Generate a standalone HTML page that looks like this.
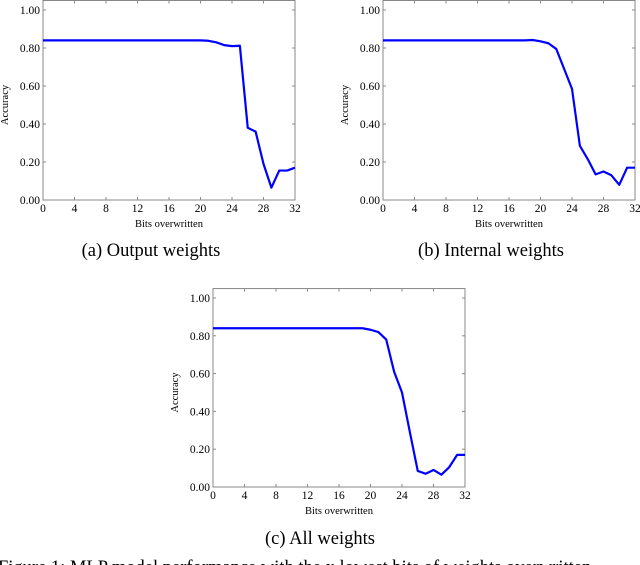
<!DOCTYPE html>
<html><head><meta charset="utf-8"><style>
body{margin:0;background:#fff;width:640px;height:565px;overflow:hidden;font-family:"Liberation Serif",serif}
svg{position:absolute;left:0;top:0}
</style></head><body>
<svg id="fig" width="640" height="565">
<text x="151" y="256" text-anchor="middle" font-size="18.5">(a) Output weights</text>
<text x="491" y="256" text-anchor="middle" font-size="18.5">(b) Internal weights</text>
<text x="320" y="544" text-anchor="middle" font-size="18.5">(c) All weights</text>
<text x="-2" y="573" font-size="18.5">Figure 1:  MLP model performance with the x lowest bits of weights overwritten</text>
</svg>
<script>
const xs = [0,1,2,3,4,5,6,7,8,9,10,11,12,13,14,15,16,17,18,19,20,21,22,23,24,25,26,27,28,29,30,31,32];
const outputAcc = [0.84,0.84,0.84,0.84,0.84,0.84,0.84,0.84,0.84,0.84,0.84,0.84,0.84,0.84,0.84,0.84,0.84,0.84,0.84,0.84,0.84,0.838,0.83,0.815,0.81,0.812,0.38,0.36,0.19,0.065,0.155,0.155,0.17];
const internalAcc = [0.84,0.84,0.84,0.84,0.84,0.84,0.84,0.84,0.84,0.84,0.84,0.84,0.84,0.84,0.84,0.84,0.84,0.84,0.84,0.842,0.835,0.825,0.795,0.69,0.585,0.285,0.215,0.135,0.15,0.13,0.08,0.17,0.17];
const allAcc = [0.84,0.84,0.84,0.84,0.84,0.84,0.84,0.84,0.84,0.84,0.84,0.84,0.84,0.84,0.84,0.84,0.84,0.84,0.84,0.84,0.832,0.82,0.78,0.61,0.5,0.29,0.085,0.07,0.09,0.065,0.105,0.17,0.17];
const xTicks = [0,4,8,12,16,20,24,28,32];
const yTicks = [0,0.2,0.4,0.6,0.8,1.0];
const yTickLabels = ["0.00","0.20","0.40","0.60","0.80","1.00"];

const NS="http://www.w3.org/2000/svg";
const svg=document.getElementById('fig');
function mk(tag,attrs,parent){const e=document.createElementNS(NS,tag);for(const k in attrs)e.setAttribute(k,attrs[k]);(parent||svg).appendChild(e);return e;}

function chart(id,L,R,B,T,vals){
  const g=mk('g',{});
  
  
  const sx=v=>L+(R-L)*v/32;
  const sy=v=>B-(B-T)*v;
  const top=sy(1.05);
  const box=mk('rect',{x:L,y:top,width:R-L,height:B-top,fill:'none',stroke:'#888','stroke-width':1},g);
  
  
  xTicks.forEach(t=>{
    mk('line',{x1:sx(t),x2:sx(t),y1:B,y2:B-3,stroke:'#888'},g);
    mk('line',{x1:sx(t),x2:sx(t),y1:top,y2:top+3,stroke:'#888'},g);
    const tx=mk('text',{x:sx(t),y:B+12,'text-anchor':'middle','font-size':11.5},g);
    tx.textContent=t;
    
    
  });
  yTicks.forEach((t,i)=>{
    mk('line',{x1:L,x2:L+3,y1:sy(t),y2:sy(t),stroke:'#888'},g);
    mk('line',{x1:R,x2:R-3,y1:sy(t),y2:sy(t),stroke:'#888'},g);
    const tx=mk('text',{x:L-3,y:sy(t)+4,'text-anchor':'end','font-size':11.5},g);
    tx.textContent=yTickLabels[i];
    
    
  });
  const xl=mk('text',{x:(L+R)/2,y:B+27,'text-anchor':'middle','font-size':10.5},g);
  xl.textContent='Bits overwritten';
  
  
  const yx=L-35, yy=(B+T)/2;
  const yl=mk('text',{x:yx,y:yy,'text-anchor':'middle','font-size':10.5,transform:`rotate(-90 ${yx} ${yy})`},g);
  yl.textContent='Accuracy';
  
  
  const pts=xs.map((x,i)=>sx(x)+','+sy(vals[i])).join(' ');
  const pl=mk('polyline',{points:pts,fill:'none',stroke:'#0000ff','stroke-width':2.2,'stroke-linejoin':'round'},g);
  
  
}
chart('chart-output-weights',43,295,200,10,outputAcc);
chart('chart-internal-weights',383,635,200,10,internalAcc);
chart('chart-all-weights',213,465,487,298,allAcc);
</script>
</body></html>
